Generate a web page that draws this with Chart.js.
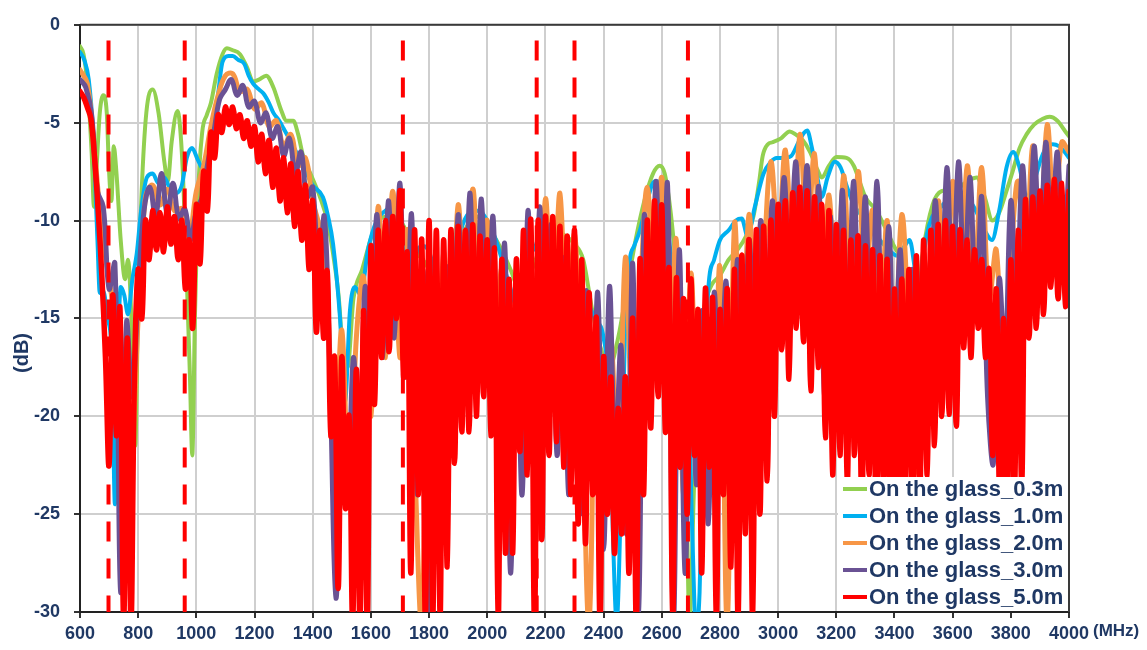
<!DOCTYPE html>
<html>
<head>
<meta charset="utf-8">
<script src="https://cdn.jsdelivr.net/npm/chart.js@4.4.1/dist/chart.umd.min.js"></script>
<style>
  html, body { margin: 0; padding: 0; background: #fff; }
</style>
</head>
<body>
<canvas id="chart" width="1147" height="650"></canvas>
<script>
// series names, as in the legend
const seriesNames = ['On the glass_0.3m', 'On the glass_1.0m', 'On the glass_2.0m', 'On the glass_3.0m', 'On the glass_5.0m'];
const seriesColors = ['#92d050', '#00b0f0', '#f79646', '#6a5294', '#ff0000'];

// band edges marked with red dashes (MHz)
const bandEdges = [698, 960, 1710, 2170, 2300, 2690];

// axis ticks
const xTickStep = 200;
const yTickStep = 5;

const greenTrace = [
  [600,-1.1],[612,-1.5],[625,-3],[640,-6.5],[648,-9.3],[658,-7],[668,-4.5],[680,-3.6],[692,-4.5],[700,-7.5],
  [708,-9],[716,-6.2],[725,-7.5],[740,-11],[755,-13],[765,-12],[778,-15.5],[790,-21.5],[800,-14],[812,-8.5],
  [828,-4.5],[850,-3.3],[870,-4.5],[890,-7],[902,-8],[915,-6],[935,-4.4],[950,-6.5],[965,-12],[978,-18],
  [986,-22],[995,-15],[1005,-9],[1020,-5.5],[1036,-4.6],[1050,-4],[1070,-2.5],[1090,-1.5],[1105,-1.2],[1125,-1.3],
  [1150,-1.5],[1175,-2.2],[1195,-2.9],[1215,-2.8],[1240,-2.6],[1265,-3.2],[1290,-4.3],[1310,-4.9],[1333,-4.9],[1350,-5.6],
  [1367,-6.7],[1395,-7.7],[1425,-8.8],[1450,-10],[1470,-11.7],[1490,-14],[1505,-17],[1520,-17.5],[1540,-14],[1570,-12.5],
  [1610,-10.5],[1650,-9.8],[1700,-10],[1750,-11.5],[1800,-12.5],[1830,-14],[1860,-14.4],[1890,-12],[1930,-10.3],[1970,-9.8],
  [2010,-10.5],[2050,-11.5],[2080,-12.5],[2110,-13.5],[2140,-13],[2180,-11.5],[2220,-10.5],[2260,-10.7],[2300,-11.2],[2330,-12],
  [2360,-14.5],[2390,-16.5],[2420,-17.5],[2450,-16],[2480,-13.5],[2510,-11],[2540,-9],[2570,-7.6],[2593,-7.2],[2610,-7.6],
  [2630,-9.5],[2650,-12.5],[2670,-16],[2685,-24],[2695,-30.5],[2710,-24],[2725,-17],[2745,-14.5],[2771,-13.3],[2800,-12.8],
  [2830,-12],[2860,-11.5],[2890,-10.8],[2915,-9.8],[2935,-8],[2947,-6.7],[2965,-6.1],[2981,-6],[3010,-5.8],[3040,-5.45],
  [3060,-5.6],[3085,-5.9],[3110,-6.5],[3135,-7.4],[3150,-7.8],[3175,-7.2],[3200,-6.75],[3235,-6.8],[3260,-7.2],[3280,-8],
  [3300,-8.8],[3338,-9.5],[3395,-11.2],[3452,-12.9],[3476,-14.5],[3497,-11.7],[3531,-9.2],[3562,-8.5],[3610,-8.4],[3650,-8],
  [3683,-7.8],[3710,-8.8],[3737,-10],[3760,-9.6],[3785,-8.5],[3806,-7.5],[3830,-6.3],[3854,-5.6],[3880,-5.1],[3910,-4.8],
  [3933,-4.7],[3960,-4.9],[3990,-5.5],[4000,-5.7]
];

const blueTrace = [
  [600,-1.4],[615,-1.8],[630,-2.8],[645,-5.5],[660,-11],[668,-13.7],[680,-13.6],[695,-15],[710,-17],[720,-24.5],
  [730,-17],[740,-13.4],[752,-13.8],[765,-14.8],[780,-13],[795,-11.7],[810,-9.5],[830,-7.8],[850,-7.6],[870,-8.1],
  [890,-7.8],[910,-8.4],[930,-8.6],[950,-8.2],[967,-6.8],[985,-6.3],[1005,-6.9],[1025,-7.4],[1045,-6],[1070,-4.1],
  [1090,-1.9],[1110,-1.6],[1125,-1.6],[1145,-1.8],[1165,-2],[1180,-2.6],[1195,-3],[1215,-3.3],[1230,-3.5],[1250,-4],
  [1265,-4.5],[1285,-4.9],[1300,-5.3],[1333,-6.2],[1367,-7.2],[1400,-8.2],[1435,-8.8],[1453,-9.8],[1470,-11.2],[1494,-15],
  [1511,-19.3],[1528,-14.6],[1545,-13.4],[1565,-13.8],[1590,-11.5],[1620,-10],[1650,-9.5],[1680,-9.2],[1710,-10.5],[1740,-13],
  [1760,-11.5],[1780,-11.3],[1800,-11.6],[1814,-12.4],[1830,-14.2],[1850,-17],[1880,-13],[1910,-10.5],[1940,-9.6],[1970,-9.5],
  [2000,-10],[2030,-11],[2060,-12.5],[2090,-14],[2118,-15.9],[2135,-11.5],[2146,-10.8],[2165,-11.5],[2190,-10.5],[2220,-10.5],
  [2250,-11.5],[2280,-12.5],[2310,-13],[2340,-14],[2370,-15],[2400,-16],[2420,-19],[2432,-26],[2445,-30.5],[2460,-24],
  [2475,-15],[2490,-12],[2505,-11.3],[2525,-10.5],[2550,-9],[2575,-8],[2595,-8],[2610,-9.5],[2625,-11],[2645,-13.5],
  [2665,-15],[2690,-18],[2705,-26],[2718,-31],[2730,-29],[2745,-20],[2760,-13.5],[2780,-12],[2800,-11],[2830,-10.5],
  [2855,-10],[2875,-9.9],[2895,-10.8],[2920,-9.3],[2950,-7.6],[2975,-7],[2995,-6.8],[3020,-6.8],[3045,-6.7],[3070,-6],
  [3090,-5.5],[3100,-5.4],[3115,-6.2],[3135,-7.8],[3150,-8.8],[3170,-7.8],[3195,-7],[3215,-7.3],[3235,-8.2],[3260,-9.2],
  [3290,-9.8],[3320,-10.5],[3350,-11],[3380,-11.5],[3410,-11.8],[3435,-11.3],[3452,-11],[3470,-12.5],[3482,-14],[3495,-12.5],
  [3510,-10.8],[3530,-9.8],[3560,-9.3],[3590,-8.8],[3620,-8.5],[3650,-8.8],[3680,-9.5],[3710,-10.5],[3735,-11],[3760,-9.5],
  [3785,-7.3],[3808,-6.5],[3830,-7.3],[3854,-8.8],[3880,-8],[3905,-6.8],[3925,-6.2],[3944,-6.1],[3965,-6.2],[3985,-6.5],
  [4000,-6.8]
];

// 2.0m, one value every 25 MHz from 600
const orangeDb = [
  -2.3, -3, -6.5, -10.5, -13, -15.5, -19, -22,
  -15, -8.8, -8.2, -9.2, -8.4, -9.5, -9.4, -10.8,
  -8.5, -7.2, -5.2, -3.6, -2.6, -2.5, -3.4, -3.3,
  -4.3, -4, -5.2, -4.9, -6.2, -5.6, -7.2, -6.8,
  -9, -10.5, -14, -22, -15.6, -24.5, -16, -12.9,
  -20, -9.3, -17, -8.5, -17, -10.5, -22, -30.5,
  -13, -22, -11.7, -18, -9.2, -16, -8.4, -14,
  -10, -17, -12.5, -20, -14, -23, -12.9, -19,
  -8.9, -16, -8.6, -17, -10.7, -19, -30.5, -16,
  -22, -16, -24, -11.9, -20, -14, -8.3, -14,
  -7.8, -16, -11, -24, -12.7, -22, -15, -21,
  -12.4, -30.5, -10.2, -18, -9.7, -16, -12, -7,
  -11, -6.4, -12, -5.6, -11, -6.6, -14, -8.7,
  -15, -7.7, -14, -7.5, -13, -9.5, -16, -10,
  -17, -9.7, -16, -22.8, -12, -17, -9, -15,
  -8, -14, -7.2, -13, -7.3, -14, -11.5, -19,
  -12, -8, -13, -6.2, -11, -5.1, -10, -6,
  -6.5
];

// 3.0m, one value every 20 MHz from 600
const purpleDb = [
  -2.8, -3.2, -4.6, -8.5, -9.3, -13.5, -12.2, -29, -15.2, -19,
  -13.5, -9.5, -8.3, -9.8, -7.6, -9.7, -8.1, -9.9, -9.4, -11,
  -9.5, -8.8, -7, -5.5, -3.8, -3.3, -2.8, -3.6, -3.1, -4.2,
  -3.9, -5, -4.5, -5.8, -5.2, -6.7, -5.8, -7.6, -6.5, -8.8,
  -8.3, -13, -9.8, -18.4, -29.3, -19.3, -24.4, -17, -23, -13.4,
  -19, -9.7, -17, -9, -16, -8.1, -18, -9.7, -24, -12.6,
  -30, -14.9, -25, -12.4, -20, -9.7, -18, -8.6, -17, -8.9,
  -18, -9.8, -22, -11.2, -28, -14, -24, -9.5, -21, -9.3,
  -20, -10.2, -22, -11.9, -24, -13.6, -25, -13.6, -22, -13.7,
  -26.8, -13.4, -22, -16.4, -26, -12.2, -30, -9.8, -19, -8,
  -17, -8.2, -30.5, -11.5, -28, -16, -23.5, -14.6, -25.5, -13.7,
  -21, -13.1, -20, -12, -19, -11, -17, -10, -16, -9,
  -14, -7.8, -13, -7, -12, -7.2, -14, -8.3, -19, -9.8,
  -20, -8.5, -15, -8, -16, -8.8, -17.5, -8, -18, -10.3,
  -18, -11.5, -20, -12.5, -21, -11.7, -17, -9, -15, -7.3,
  -14, -7, -13, -7.8, -15, -8.8, -19, -22.4, -13, -17,
  -9, -14, -7.2, -13, -6.2, -12, -6, -11, -6.5, -12,
  -7.2
];

// 5.0m, one value every 12.5 MHz from 600
const redDb = [
  -3.4, -3.7, -4.2, -4.8, -6.8, -9.5, -12.8, -17, -22.5, -13.8, -21, -14.5, -30.5, -16, -30.5, -17.7,
  -12.5, -15, -10, -12, -9.5, -11.5, -9.6, -11.6, -9.3, -11.2, -9.8, -12, -10, -13.5, -11, -15.5,
  -9.2, -12.2, -7.5, -9.5, -5.5, -6.8, -4.6, -5.5, -4.2, -5.1, -4.2, -5.3, -4.6, -5.8, -4.9, -6.2,
  -5.2, -7, -5.6, -7.6, -5.9, -8.3, -6.3, -9, -6.8, -9.6, -7.1, -10.3, -7.5, -11, -8.2, -12.5,
  -9, -15.7, -10.5, -16, -12.6, -21, -17, -28.8, -17, -24.7, -20, -30.5, -17.6, -30.5, -14.6, -30.5,
  -11.4, -19.4, -10.5, -17, -10, -16.7, -9.8, -15, -8.5, -18, -11.7, -28, -10.5, -24, -11, -30.5,
  -10, -30.5, -10.5, -30.5, -11, -27.7, -10.5, -22.4, -10.3, -20.8, -10.5, -20.8, -10.2, -20, -10.8, -19,
  -11, -21, -11.5, -30.5, -12, -27, -13, -27, -12, -21.8, -10.5, -23, -10, -30.5, -10, -26.3,
  -9.8, -22, -9.8, -21.3, -10.3, -22.6, -10.8, -24, -10.5, -25.5, -12, -26.5, -13.7, -24, -15, -30.5,
  -17, -25, -18, -27, -19.6, -26, -18, -28, -15, -30.5, -12, -24, -10, -20.6, -9, -19,
  -9.2, -20.8, -12.5, -30.5, -13, -22.6, -14, -25, -13, -22, -14.6, -28, -13.5, -22.6, -14, -30.5,
  -14.6, -24, -13.5, -27.7, -12.5, -30.5, -11.8, -26, -11, -30.5, -10.5, -25, -10.3, -23.3, -10, -20,
  -9.2, -16.6, -9, -18.1, -8.6, -15.5, -8.3, -16.2, -8.5, -18.7, -8.8, -17.5, -9.2, -21.1, -9.5, -23,
  -10.2, -22, -10.5, -23.5, -11, -22, -10.8, -25, -11.3, -23, -11.5, -26, -11.8, -23.5, -12, -27,
  -13.5, -26, -13, -24, -12.5, -25, -11.8, -24, -11, -23, -10.5, -21.5, -10.2, -20, -10, -19.9,
  -10.3, -20.5, -10.5, -16.5, -11, -17, -11.5, -15.5, -12, -17, -12.5, -22, -13.5, -25, -15, -25,
  -12, -24, -10.5, -23.5, -9, -16, -8.8, -15.5, -8.5, -14.8, -8.2, -13.4, -7.9, -14, -8.1, -14.4,
  -8.5
];

const LABEL_FONT = '"Liberation Sans", Arial, sans-serif';
const TEXT = '#1f3864';

function fromPairs(list) {
  return list.map(p => ({ x: p[0], y: p[1] }));
}
function fromSteps(vals, start, step) {
  return vals.map((v, i) => ({ x: start + i * step, y: v }));
}

function trace(idx, data, width, order, smooth) {
  return {
    label: seriesNames[idx],
    data: data,
    borderColor: seriesColors[idx],
    backgroundColor: seriesColors[idx],
    borderWidth: width,
    pointRadius: 0,
    tension: 0.4,
    cubicInterpolationMode: smooth ? 'monotone' : 'default',
    borderJoinStyle: 'round',
    borderCapStyle: 'round',
    order: order,
    inLegend: true,
    clip: { left: 0, top: 5, right: 0, bottom: 0 }
  };
}

const datasets = [
  trace(0, fromPairs(greenTrace), 4, 4, true),
  trace(1, fromPairs(blueTrace), 4, 3, true),
  trace(2, fromSteps(orangeDb, 600, 25), 5, 2, false),
  trace(3, fromSteps(purpleDb, 600, 20), 5, 1, false),
  trace(4, fromSteps(redDb, 600, 12.5), 5.5, 0, false)
];

bandEdges.forEach(function (f) {
  datasets.push({
    label: 'band ' + f,
    data: [{ x: f, y: -0.8 }, { x: f, y: -30 }],
    borderColor: '#ff0000',
    borderWidth: 4,
    borderDash: [20, 17],
    borderCapStyle: 'butt',
    pointRadius: 0,
    tension: 0,
    order: -1,
    clip: 0
  });
});

// frame, legend box and the two axis captions
const decorations = {
  id: 'decorations',
  afterDraw(chart) {
    const ctx = chart.ctx;
    const a = chart.chartArea;
    ctx.save();

    ctx.strokeStyle = '#3a3a3a';
    ctx.lineWidth = 2;
    ctx.beginPath();
    ctx.moveTo(a.left, a.top);
    ctx.lineTo(a.right, a.top);
    ctx.lineTo(a.right, a.bottom);
    ctx.stroke();

    // legend sits inside the plot, bottom right
    const boxW = 231, boxH = 135;
    const bx = a.right - boxW, by = a.bottom - boxH;
    ctx.fillStyle = '#ffffff';
    ctx.fillRect(bx, by, boxW - 1, boxH - 1);
    ctx.font = 'bold 22px ' + LABEL_FONT;
    ctx.textBaseline = 'middle';
    ctx.textAlign = 'left';
    let row = 0;
    chart.data.datasets.forEach(function (ds) {
      if (!ds.inLegend) return;
      const y = by + 12 + row * 27;
      ctx.strokeStyle = ds.borderColor;
      ctx.lineWidth = 4;
      ctx.beginPath();
      ctx.moveTo(bx + 5, y);
      ctx.lineTo(bx + 29, y);
      ctx.stroke();
      ctx.fillStyle = TEXT;
      ctx.fillText(ds.label, bx + 31, y + 1);
      row++;
    });

    ctx.fillStyle = TEXT;
    ctx.font = 'bold 17px ' + LABEL_FONT;
    ctx.textAlign = 'left';
    ctx.fillText('(MHz)', 1093, 631);

    ctx.font = 'bold 20px ' + LABEL_FONT;
    ctx.translate(22, 353);
    ctx.rotate(-Math.PI / 2);
    ctx.textAlign = 'center';
    ctx.fillText('(dB)', 0, 0);
    ctx.restore();
  }
};

new Chart(document.getElementById('chart'), {
  type: 'line',
  data: { datasets: datasets },
  plugins: [decorations],
  options: {
    responsive: false,
    animation: false,
    devicePixelRatio: 1,
    layout: { padding: { top: 18, right: 78, left: 0, bottom: 0 } },
    plugins: { legend: { display: false }, tooltip: { enabled: false } },
    scales: {
      x: {
        type: 'linear',
        min: 600,
        max: 4000,
        ticks: {
          stepSize: xTickStep,
          autoSkip: false,
          maxRotation: 0,
          color: TEXT,
          padding: 5,
          font: { family: LABEL_FONT, size: 18, weight: 'bold' },
          callback: v => String(v)
        },
        grid: { color: '#cfcfcf', lineWidth: 2, tickLength: 6, tickColor: '#333' },
        border: { color: '#222', width: 2 },
        afterFit(scale) { scale.height = 38; }
      },
      y: {
        min: -30,
        max: 0,
        ticks: {
          stepSize: yTickStep,
          color: TEXT,
          padding: 14,
          font: { family: LABEL_FONT, size: 18, weight: 'bold' },
          callback: v => String(v)
        },
        grid: { color: '#cfcfcf', lineWidth: 2, tickLength: 6, tickColor: '#333' },
        border: { color: '#222', width: 2 },
        afterFit(scale) { scale.width = 80; }
      }
    }
  }
});
</script>
</body>
</html>
